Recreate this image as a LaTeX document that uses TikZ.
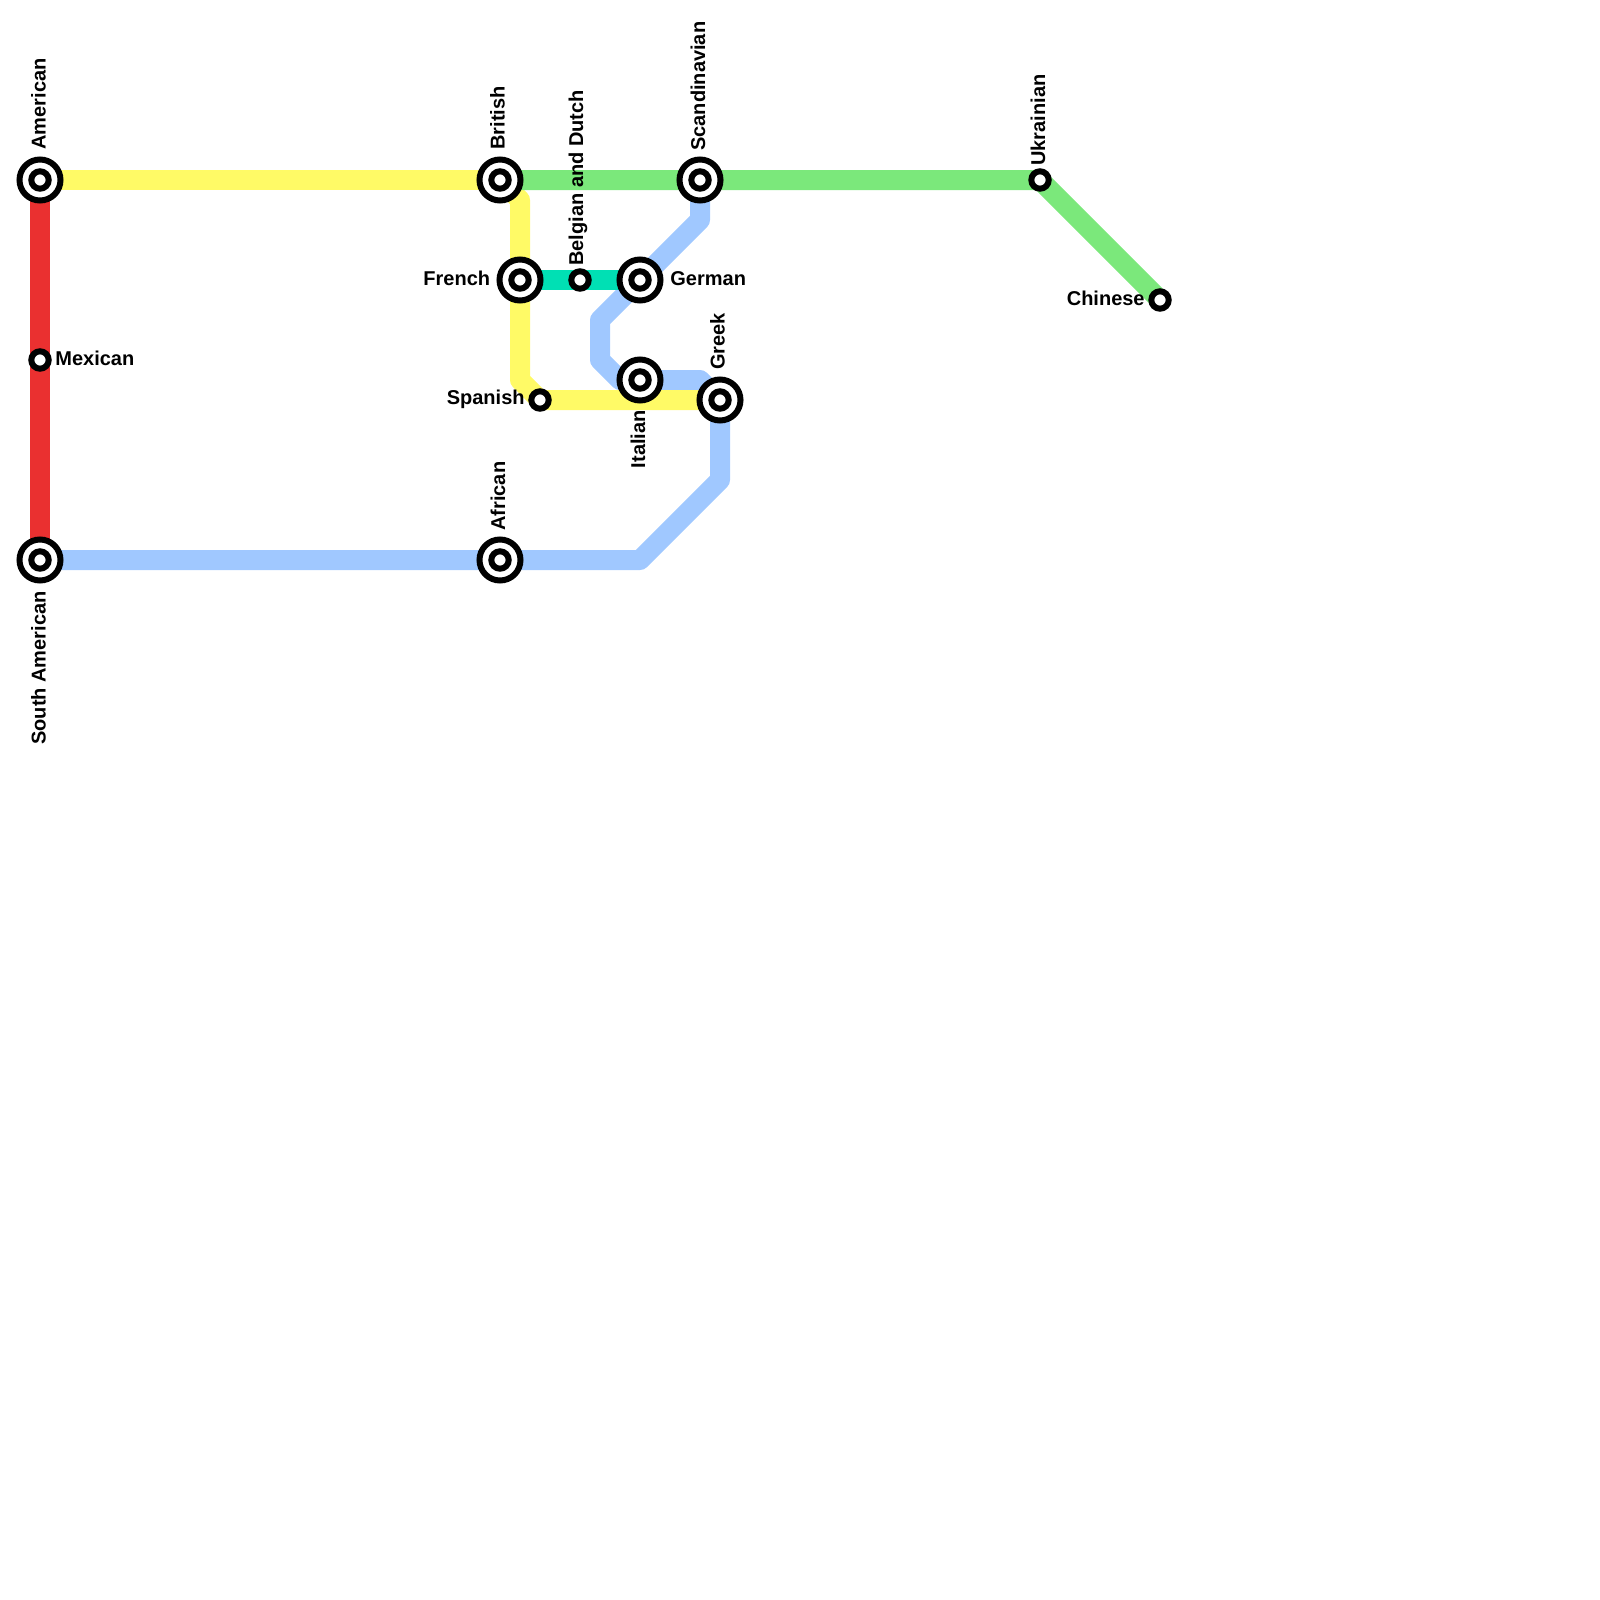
\documentclass[tikz,border=0pt]{standalone}
\usepackage{fontspec}
\setmainfont{Liberation Sans}
\pgfdeclarelayer{lines}
\pgfsetlayers{lines,main}
\definecolor{cyellow}{HTML}{FFFA66}
\definecolor{cred}{HTML}{EA3030}
\definecolor{cgreen}{HTML}{7BE87B}
\definecolor{cblue}{HTML}{A0C8FF}
\definecolor{cteal}{HTML}{00E0B4}
\tikzset{
  x=0.5pt,y=-0.5pt,
  route/.style={line width=10pt,line join=round,line cap=butt},
  hubstop/.style={circle,draw=black,fill=white,line width=3pt,inner sep=0pt,outer sep=0pt,minimum size=20.5pt,
    path picture={\draw[black,line width=3pt,fill=white] (path picture bounding box.center) circle (4.35pt);}},
  smallstop/.style={circle,draw=black,fill=white,line width=3pt,inner sep=0pt,outer sep=0pt,minimum size=8.7pt},
  lbl/.style={font=\fontsize{10}{12}\selectfont\bfseries,inner sep=0pt,text=black},
  up/.style={lbl,rotate=90,anchor=west},
  down/.style={lbl,rotate=90,anchor=east},
  lft/.style={lbl,anchor=east},
  rgt/.style={lbl,anchor=west}
}
\begin{document}
\begin{tikzpicture}
\useasboundingbox (0,0) rectangle (1600,1600);
% stations
\node[hubstop] (american) at (40,180) {};
\node[hubstop] (british) at (500,180) {};
\node[hubstop] (scand) at (700,180) {};
\node[smallstop] (ukr) at (1040,180) {};
\node[smallstop] (chinese) at (1160,300) {};
\node[hubstop] (french) at (520,280) {};
\node[smallstop] (belgian) at (580,280) {};
\node[hubstop] (german) at (640,280) {};
\node[hubstop] (italian) at (640,380) {};
\node[hubstop] (greek) at (720,400) {};
\node[smallstop] (spanish) at (540,400) {};
\node[smallstop] (mexican) at (40,360) {};
\node[hubstop] (samerican) at (40,560) {};
\node[hubstop] (african) at (500,560) {};
% route bends
\coordinate (b1) at (700,220);
\coordinate (b2) at (600,320);
\coordinate (b3) at (600,360);
\coordinate (b4) at (620,380);
\coordinate (b5) at (700,380);
\coordinate (b6) at (720,480);
\coordinate (b7) at (640,560);
\coordinate (y1) at (520,200);
\coordinate (y2) at (520,380);
% routes
\begin{pgfonlayer}{lines}
\draw[route,cblue] (scand.center) -- (b1) -- (german.center) -- (b2) -- (b3) -- (b4) -- (italian.center) -- (b5) -- (greek.center) -- (b6) -- (b7) -- (african.center) -- (samerican.center);
\draw[route,cred] (american.center) -- (mexican.center) -- (samerican.center);
\draw[route,cyellow] (british.center) -- (y1) -- (french.center) -- (y2) -- (spanish.center) -- (greek.center);
\draw[route,cyellow] (american.center) -- (british.center);
\draw[route,cgreen] (british.center) -- (scand.center) -- (ukr.center) -- (chinese.center);
\draw[route,cteal] (french.center) -- (belgian.center) -- (german.center);
\end{pgfonlayer}
% labels
\node[up] (lamerican) at (38.5,150) {American};
\node[up] (lbritish) at (497.5,150) {British};
\node[up] (lbelgian) at (578,266) {Belgian and Dutch};
\node[up] (lscand) at (698,151) {Scandinavian};
\node[up] (lukr) at (1038,166) {Ukrainian};
\node[up] (lgreek) at (717.5,370) {Greek};
\node[up] (lafrican) at (498,531) {African};
\node[down] (litalian) at (638,410) {Italian};
\node[down] (lsamerican) at (38.5,591) {South American};
\node[lft] (lfrench) at (490.5,278) {French};
\node[rgt] (lgerman) at (670,279) {German};
\node[rgt] (lmexican) at (55,358) {Mexican};
\node[lft] (lspanish) at (525,399) {Spanish};
\node[lft] (lchinese) at (1145,298) {Chinese};
\end{tikzpicture}
\end{document}
